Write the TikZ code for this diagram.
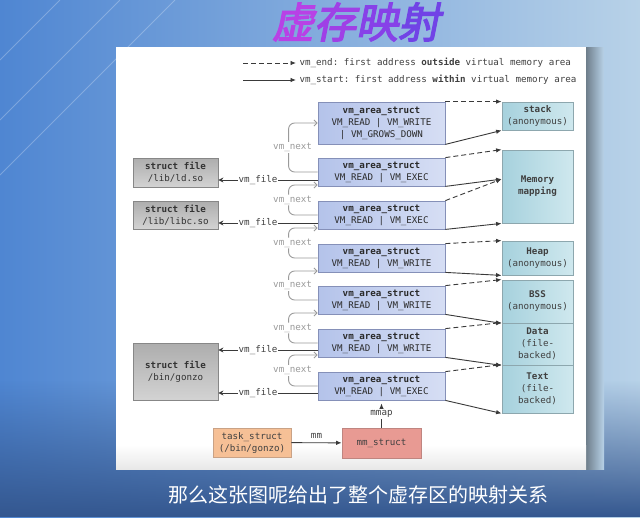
\documentclass[tikz,border=0pt]{standalone}
\usepackage{fontspec}
\setmonofont{DejaVu Sans Mono}
\newfontfamily\cjk{Noto Sans CJK SC}
\newfontfamily\cjktitle[FakeSlant=0.2,FakeBold=3]{Noto Sans CJK SC}
\usepackage{xcolor}
\usepackage{tikz}
\usetikzlibrary{arrows.meta, calc, fadings}

\definecolor{bgL}{HTML}{4F86D2}
\definecolor{bgR}{HTML}{B8D2E8}
\definecolor{bgD}{HTML}{34578F}
\definecolor{txt}{HTML}{2A2A2A}
\definecolor{vmA}{HTML}{B4C3EA}
\definecolor{vmB}{HTML}{D6DEF4}
\definecolor{vmE}{HTML}{8590B8}
\definecolor{rgA}{HTML}{A6D1DD}
\definecolor{rgB}{HTML}{CFE8EE}
\definecolor{rgE}{HTML}{8DA7AE}
\definecolor{flA}{HTML}{ADADAD}
\definecolor{flB}{HTML}{D3D3D3}
\definecolor{flE}{HTML}{878787}
\definecolor{tkF}{HTML}{F6C096}
\definecolor{tkE}{HTML}{C9A286}
\definecolor{mmF}{HTML}{E89A93}
\definecolor{mmE}{HTML}{BF8580}
\definecolor{lnk}{HTML}{3A3A3A}
\definecolor{nxt}{HTML}{9A9A9A}
\definecolor{tA}{HTML}{B841E6}
\definecolor{tB}{HTML}{9F40E6}
\definecolor{tC}{HTML}{8741E8}
\definecolor{tD}{HTML}{7143E6}

\begin{document}
\begin{tikzpicture}[x=1pt, y=-1pt,
  every node/.style={font=\ttfamily\fontsize{9.2}{12}\selectfont, text=txt},
  vmbox/.style={draw=vmE, left color=vmA, right color=vmB, line width=0.8pt,
    align=center, inner sep=0pt, minimum width=127pt, minimum height=28pt},
  regbox/.style={draw=rgE, left color=rgA, right color=rgB, line width=0.8pt,
    align=center, inner sep=0pt, minimum width=71pt, text=black!75},
  filebox/.style={draw=flE, top color=flA, bottom color=flB, line width=0.8pt,
    align=center, inner sep=0pt, minimum width=85pt, text=black!80},
  taskbox/.style={draw=tkE, fill=tkF, line width=0.8pt, align=center,
    inner sep=0pt, minimum width=78pt, minimum height=29pt, text=black!75},
  mmbox/.style={draw=mmE, fill=mmF, line width=0.8pt, align=center,
    inner sep=0pt, minimum width=79pt, minimum height=30pt, text=black!75},
  startlink/.style={draw=lnk, line width=0.9pt, -{Latex[length=5.5pt,width=4.5pt]}},
  endlink/.style={startlink, dash pattern=on 5pt off 3pt},
  filelink/.style={draw=lnk, line width=0.9pt, -{Stealth[length=5pt,width=5pt]}},
  nextlink/.style={draw=nxt, line width=0.9pt, rounded corners=6pt,
    -{Straight Barb[length=3pt,width=6pt]}},
  lbl/.style={fill=white, inner sep=1pt, text=black!75},
  nextlbl/.style={lbl, text=nxt, xshift=4pt}
]
\def\vx{381.5}
\def\rx{537.5}
\def\fx{175.5}

% backdrop
\useasboundingbox (0,0) rectangle (640,517);
\shade[left color=bgL, right color=bgR] (0,0) rectangle (640,517);
\fill[bgD, path fading=north] (0,380) rectangle (640,517);
\foreach \s in {60,120,175}
  \draw[white, opacity=0.25, line width=0.8pt] (0,\s) -- (\s,0);
\shade[left color=black!40!bgR, right color=bgR] (586,47) rectangle (604,469);
\fill[white] (116,47) rectangle (586,469);
\shade[top color=white, bottom color=black!9] (116,445) rectangle (586,469);

% title and caption
\node[font=\cjktitle\fontsize{42}{42}\selectfont] (title) at (356,22)
  {\textcolor{tA}{虚}\textcolor{tB}{存}\textcolor{tC}{映}\textcolor{tD}{射}};
\node[font=\cjk\fontsize{20}{20}\selectfont, text=white] (caption) at (358,495)
  {那么这张图呢给出了整个虚存区的映射关系};

% legend
\node[anchor=west, text=black!75] (lgend) at (296,63)
  {vm\_end: first address \textbf{outside} virtual memory area};
\node[anchor=west, text=black!75] (lgstart) at (296,80)
  {vm\_start: first address \textbf{within} virtual memory area};
\coordinate (lg1) at (243,63);
\coordinate (lg2) at (243,80);
\draw[endlink] (lg1) -- (lgend.west);
\draw[startlink] (lg2) -- (lgstart.west);

% vm_area_struct list
\node[vmbox, minimum height=42pt] (b1) at (\vx,123)
  {\textbf{vm\_area\_struct}\\VM\_READ | VM\_WRITE\\| VM\_GROWS\_DOWN};
\foreach \i/\y/\fl in {2/172/VM\_READ | VM\_EXEC, 3/215/VM\_READ | VM\_EXEC,
    4/258/VM\_READ | VM\_WRITE, 5/300/VM\_READ | VM\_WRITE,
    6/343/VM\_READ | VM\_WRITE, 7/386/VM\_READ | VM\_EXEC} {
  \node[vmbox] (b\i) at (\vx,\y) {\textbf{vm\_area\_struct}\\\fl};
}

% regions
\node[regbox, minimum height=28pt] (stack) at (\rx,116) {\textbf{stack}\\(anonymous)};
\node[regbox, minimum height=73pt] (mmapreg) at (\rx,186.5) {\textbf{Memory}\\\textbf{mapping}};
\node[regbox, minimum height=34pt] (heap) at (\rx,258) {\textbf{Heap}\\(anonymous)};
\node[regbox, minimum height=43pt] (bss) at (\rx,301.5) {\textbf{BSS}\\(anonymous)};
\node[regbox, minimum height=42pt] (dataseg) at (\rx,344) {\textbf{Data}\\(file-\\backed)};
\node[regbox, minimum height=48pt] (textseg) at (\rx,389) {\textbf{Text}\\(file-\\backed)};
\coordinate (mmmid) at ($(mmapreg.north west)!0.4!(mmapreg.south west)$);

% files
\node[filebox, minimum height=29pt] (ld) at (\fx,172.5) {\textbf{struct file}\\/lib/ld.so};
\node[filebox, minimum height=28pt] (libc) at (\fx,215) {\textbf{struct file}\\/lib/libc.so};
\node[filebox, minimum height=57pt] (gonzo) at (\fx,371.5) {\textbf{struct file}\\/bin/gonzo};

% task and mm
\node[taskbox] (task) at (252,442.5) {task\_struct\\(/bin/gonzo)};
\node[mmbox] (mms) at (\vx,443) {mm\_struct};

% vm_start / vm_end
\foreach \i/\s/\e in {1/stack.north west/stack.south west, 2/mmapreg.north west/mmmid,
    3/mmmid/mmapreg.south west, 4/heap.north west/heap.south west,
    5/bss.north west/bss.south west, 6/dataseg.north west/dataseg.south west,
    7/textseg.north west/textseg.south west} {
  \draw[endlink] (b\i.north east) -- (\s);
  \draw[startlink] (b\i.south east) -- (\e);
}

% vm_next
\foreach \a/\b/\off in {2/1/0, 3/2/13, 4/3/13, 5/4/13, 6/5/13, 7/6/12}
  \draw[nextlink] (b\a.west) -- ++(-29,0) |- ($(b\b.west)+(0,\off)$)
    node[nextlbl, pos=0.25] {vm\_next};

% vm_file
\foreach \b/\f/\off in {2/ld/8, 3/libc/8, 6/gonzo/7, 7/gonzo/7}
  \draw[filelink] ($(b\b.west)+(0,\off)$) coordinate (fs\b) -- (fs\b -| \f.east)
    node[lbl, pos=0.6] {vm\_file};

\draw[startlink, shorten >=3pt] (mms) -- (b7) node[lbl, midway] {mmap};
\draw[startlink] (task) -- (mms) node[midway, above, text=black!75] {mm};

\end{tikzpicture}
\end{document}
